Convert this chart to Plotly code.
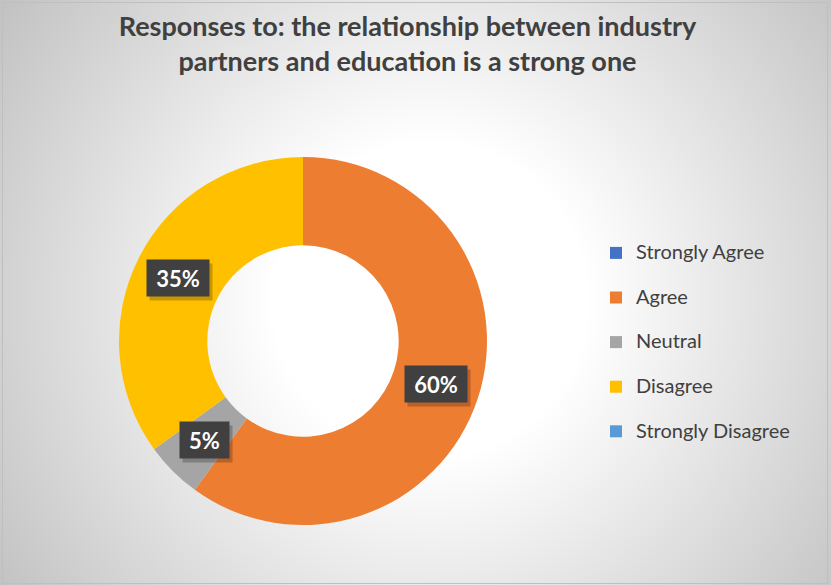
import math
import base64
import plotly.graph_objects as go

# Survey responses
categories = ["Strongly Agree", "Agree", "Neutral", "Disagree", "Strongly Disagree"]
responses = [0, 60, 5, 35, 0]
slice_colors = ["#4472C4", "#ED7D31", "#A5A5A5", "#FFC000", "#5B9BD5"]
title_text = ("<b>Responses to: the relationship between industry<br>"
              "partners and education is a strong one</b>")

# Canvas and donut geometry (pixels)
W, H = 831, 585
CX, CY, R = 303, 341, 184
HOLE = 0.52
LABEL_R = 0.76          # label distance from centre, as a fraction of R
TEXT = "#404040"
FONT = "Lato"

# Soft radial background
bg_svg = f"""<svg xmlns="http://www.w3.org/2000/svg" width="{W}" height="{H}" viewBox="0 0 {W} {H}" preserveAspectRatio="none">
<defs><radialGradient id="g" gradientUnits="userSpaceOnUse" cx="430" cy="300" r="520">
<stop offset="0" stop-color="#ffffff"/><stop offset="0.3" stop-color="#ffffff"/>
<stop offset="1" stop-color="#c2c2c2"/></radialGradient></defs>
<rect width="{W}" height="{H}" fill="url(#g)"/></svg>"""
bg_src = "data:image/svg+xml;base64," + base64.b64encode(bg_svg.encode()).decode()

# Legend labels: 20px text on a taller row
legend_labels = [f"<span style='font-size:20px'>{c}</span><br> " for c in categories]

fig = go.Figure(go.Pie(
    labels=legend_labels,
    values=responses,
    marker=dict(colors=slice_colors, line=dict(width=0)),
    hole=HOLE,
    sort=False,
    direction="clockwise",
    rotation=0,
    textinfo="none",
    hovertext=categories,
    hoverinfo="text+percent",
    domain=dict(x=[(CX - R) / W, (CX + R) / W],
                y=[(H - CY - R) / H, (H - CY + R) / H]),
))

# Percentage labels placed at each slice's mid-angle, with a soft drop shadow
annotations = []
total = sum(responses)
cum = 0
for cat, v in zip(categories, responses):
    if v > 0:
        mid = (cum + v / 2) / total * 2 * math.pi
        px = CX + LABEL_R * R * math.sin(mid)
        py = CY - LABEL_R * R * math.cos(mid)
        pct = f"{round(v / total * 100)}%"
        box_w = 13 * len(pct) + 7
        common = dict(x=px / W, y=1 - py / H, xref="paper", yref="paper",
                      xanchor="center", yanchor="middle", showarrow=False,
                      borderpad=8, width=box_w, height=20)
        annotations.append(dict(common, text=" ", xshift=3, yshift=-4,
                                font=dict(family=FONT, size=22),
                                bgcolor="rgba(0,0,0,0.22)"))
        annotations.append(dict(common, text=f"<b>{pct}</b>",
                                font=dict(family=FONT, size=22, color="white"),
                                bgcolor="#404040"))
    cum += v

fig.update_layout(
    width=W, height=H,
    margin=dict(l=0, r=0, t=0, b=0),
    paper_bgcolor="white",
    title=dict(text=title_text, x=407.5 / W, xanchor="center",
               y=1 - 36 / H, yanchor="top",
               font=dict(family=FONT, size=27, color=TEXT)),
    showlegend=True,
    legend=dict(x=596 / W, xanchor="left", y=1 - 236 / H, yanchor="top",
                valign="top", bgcolor="rgba(0,0,0,0)",
                font=dict(family=FONT, size=16, color=TEXT)),
    annotations=annotations,
    images=[dict(source=bg_src, xref="paper", yref="paper", x=0, y=1,
                 sizex=1, sizey=1, xanchor="left", yanchor="top",
                 sizing="stretch", layer="below")],
    shapes=[dict(type="rect", xref="paper", yref="paper",
                 x0=2.5 / W, x1=1 - 3.5 / W, y0=1.5 / H, y1=1 - 2.5 / H,
                 line=dict(color="#bfbfbf", width=1))],
)

fig.write_html("out.html")
